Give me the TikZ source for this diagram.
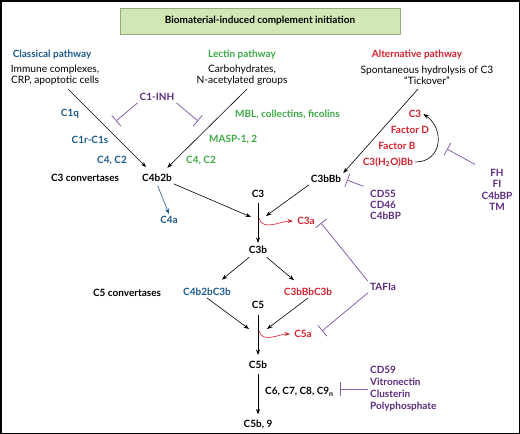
\documentclass[tikz,border=0pt]{standalone}
\usepackage{fontspec}
\setmainfont{Lato}
\usepackage{tikz}
\usetikzlibrary{calc,arrows.meta}
\definecolor{cblue}{HTML}{1C5A8C}
\definecolor{cgreen}{HTML}{3BAA44}
\definecolor{cred}{HTML}{D6202E}
\definecolor{cpurp}{HTML}{5C2A80}
\definecolor{cline}{HTML}{8A5EA6}
\definecolor{tfill}{HTML}{D3E7B4}
\definecolor{tdraw}{HTML}{93AD78}

\begin{document}
\begin{tikzpicture}[x=1pt,y=-1pt,
  every node/.style={font=\bfseries\fontsize{10}{11}\selectfont,inner sep=2pt},
  txt/.style={font=\fontsize{10.2}{11}\selectfont,align=center},
  arr/.style={-{Stealth[length=5.5pt,width=4pt]},line width=0.6pt},
  inh/.style={-{Bar[width=14pt]},cline,line width=0.8pt}]
\useasboundingbox (0,0) rectangle (520,434);
\draw[line width=1.5pt] (0.75,0.75) rectangle (519.25,433.25);
% title
\node[draw=tdraw,fill=tfill,line width=0.8pt,minimum width=280pt,minimum height=26pt] (title) at (260,21) {Biomaterial-induced complement initiation};
% the three pathways
\node[cblue] (clas) at (52,55) {Classical pathway};
\node[txt] (clasd) at (55,75) {Immune complexes,\\CRP, apoptotic cells};
\node[cgreen] (lect) at (242,55) {Lectin pathway};
\node[txt] (lectd) at (242,75) {Carbohydrates,\\N-acetylated groups};
\node[cred] (alt) at (417,55) {Alternative pathway};
\node[txt] (altd) at (427,75) {Spontaneous hydrolysis of C3\\“Tickover”};
\coordinate (clastop) at (68,89);
\coordinate (lecttop) at (247,89);
\coordinate (alttop) at (418,89);
% classical and lectin
\node[cblue] (c1q) at (70,114) {C1q};
\node[cblue] (c1r) at (90,140) {C1r-C1s};
\node[cblue] (c4c2a) at (112,161) {C4, C2};
\node[cpurp] (c1inh) at (157,97) {C1-INH};
\node[cgreen,anchor=west] (mbl) at (233,114) {MBL, collectins, ficolins};
\node[cgreen,anchor=west] (masp) at (207,140) {MASP-1, 2};
\node[cgreen] (c4c2b) at (201,161) {C4, C2};
\node (c3conv) at (85,178) {C3 convertases};
\node (c4b2b) at (157,178) {C4b2b};
\node[cblue] (c4a) at (169,220) {C4a};
\coordinate (inha) at (116,121);
\coordinate (inhb) at (198,121);
\draw[arr,shorten >=7pt] (clastop) -- (c4b2b);
\draw[arr,shorten >=6pt] (lecttop) -- (c4b2b);
\draw[inh] (c1inh.south west) -- (inha);
\draw[inh] (c1inh.south east) -- (inhb);
\draw[arr,cblue,shorten <=2pt] (c4b2b.south) -- (c4a.north);
% alternative
\node[cred] (c3alt) at (415,114) {C3};
\node[cred] (facd) at (410,130) {Factor D};
\node[cred] (facb) at (397,146) {Factor B};
\node[cred] (c3h2o) at (388,162) {C3(H\textsubscript{2}O)Bb};
\node[cpurp,align=center,font=\bfseries\fontsize{10}{11.5}\selectfont] (fh) at (497,190) {FH\\FI\\C4bBP\\TM};
\node (c3bbb) at (326,179) {C3bBb};
\node[cpurp,align=left,anchor=west,font=\bfseries\fontsize{10}{11}\selectfont] (cd55) at (368,205) {CD55\\CD46\\C4bBP};
\coordinate (inhc) at (347,180);
\coordinate (inhd) at (447,149);
\draw[arr] (alttop) -- (c3bbb.north east);
\draw[arr] (c3h2o.east) to[out=0,in=-35,looseness=1.4] (c3alt.east);
\draw[inh,shorten <=5pt] (fh.north west) -- (inhd);
\draw[inh,shorten <=5pt] (cd55.north west) -- (inhc);
% C3
\node (c3) at (258,194) {C3};
\node (c3b) at (258,250) {C3b};
\node[cred] (c3a) at (306,221) {C3a};
\coordinate (c3l) at (251,217);
\coordinate (c3r) at (266,216);
\coordinate (c3split) at (259,218);
\draw[arr] (c4b2b.south east) -- (c3l);
\draw[arr] (c3bbb.south west) -- (c3r);
\draw[arr,shorten <=3pt,shorten >=1pt] (c3) -- (c3b);
\draw[arr,cred,shorten >=2pt] (c3split) to[out=-75,in=180] (c3a.west);
% C5 convertases
\node (c5conv) at (127,293) {C5 convertases};
\node[cblue] (c4b2bc3b) at (207,292) {C4b2bC3b};
\node[cred] (c3bbbc3b) at (308,292) {C3bBbC3b};
\node (c5) at (258,305) {C5};
\node[cpurp] (tafia) at (383,287) {TAFIa};
\node[cred] (c5a) at (303,334) {C5a};
\coordinate (inhe) at (321,223);
\coordinate (inhf) at (322,331);
\draw[arr,shorten <=2pt,shorten >=10pt] (c3b) -- (c4b2bc3b);
\draw[arr,shorten <=2pt,shorten >=9pt] (c3b) -- (c3bbbc3b);
\draw[inh] (tafia.north west) -- (inhe);
\draw[inh] (tafia.south west) -- (inhf);
\coordinate (c5l) at (249,329);
\coordinate (c5r) at (267,329);
\coordinate (c5split) at (259,331);
\draw[arr] (c4b2bc3b.south) -- (c5l);
\draw[arr] (c3bbbc3b.south) -- (c5r);
% C5 to C5b-9
\node (c5b) at (258,365) {C5b};
\node (c5b9) at (258,424) {C5b, 9};
\node[anchor=west] (c6) at (263,392) {C6, C7, C8, C9\textsubscript{n}};
\node[cpurp,align=left,anchor=west,font=\bfseries\fontsize{10}{12}\selectfont] (cd59) at (368,389) {CD59\\Vitronectin\\Clusterin\\Polyphosphate};
\coordinate (inhg) at (340,389);
\draw[arr,shorten <=4pt,shorten >=4pt] (c5) -- (c5b);
\draw[arr,cred,shorten >=2pt] (c5split) to[out=-75,in=180] (c5a.west);
\draw[arr,shorten <=3pt,shorten >=3pt] (c5b) -- (c5b9);
\draw[inh] (cd59.west) -- (inhg);
\end{tikzpicture}
\end{document}
